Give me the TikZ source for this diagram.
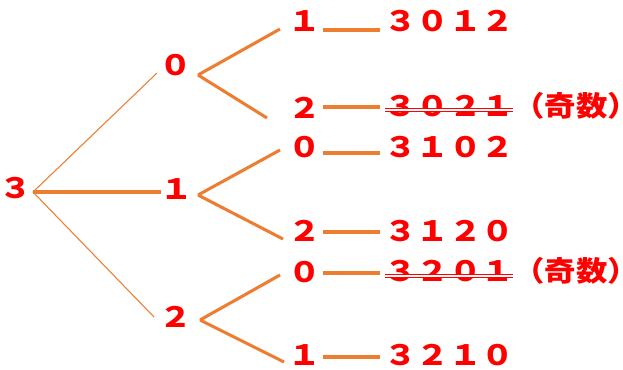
\documentclass[tikz,border=0pt]{standalone}
\usepackage{fontspec}
\newfontfamily\jp{Noto Sans CJK JP}[FakeStretch=1.16]
\newfontfamily\jpp{Noto Sans CJK JP}[FakeStretch=1.12]
\definecolor{orng}{HTML}{ED7D31}
\definecolor{rd}{HTML}{FF0000}
\tikzset{
  lbl/.style={text=rd, font=\jp\bfseries\fontsize{21}{24}\selectfont, inner sep=0pt},
  odd/.style={text=rd, font=\jpp\bfseries\fontsize{21}{24}\selectfont, inner sep=0pt, anchor=east},
  thinl/.style={draw=orng, line width=0.8pt},
  thickl/.style={draw=orng, line width=3pt},
  medl/.style={draw=orng, line width=2.3pt},
  hl/.style={draw=orng, line width=3pt},
  strike/.style={draw=rd, line width=0.9pt, double=white, double distance=1.6pt}
}
\begin{document}
\begin{tikzpicture}[x=0.75pt,y=-0.75pt]
\useasboundingbox (0,0) rectangle (623,369);
% nodes
\node[lbl] (r) at (16,188) {３};
\node[lbl] (a) at (176,65) {０};
\node[lbl] (b) at (177,189) {１};
\node[lbl] (c) at (176,317) {２};
\node[lbl] (a1) at (305,21) {１};
\node[lbl] (a2) at (305,108) {２};
\node[lbl] (b1) at (305,147) {０};
\node[lbl] (b2) at (305,231) {２};
\node[lbl] (c1) at (305,272) {０};
\node[lbl] (c2) at (305,355) {１};
\node[lbl] (ra1) at (449,21) {３０１２};
\node[lbl] (ra2) at (449,106) {３０２１};
\node[lbl] (rb1) at (449,147) {３１０２};
\node[lbl] (rb2) at (449,231) {３１２０};
\node[lbl] (rc1) at (449,271) {３２０１};
\node[lbl] (rc2) at (449,355) {３２１０};
\node[odd] (o1) at (623,106) {\kern-12pt（奇数）\kern-12pt};
\node[odd] (o2) at (623,271) {\kern-12pt（奇数）\kern-12pt};
% first level
\draw[thinl] ([shift={(17,4)}]r.center) -- ([shift={(-19,8)}]a.center);
\draw[thickl] ([shift={(17,4)}]r.center) -- ([shift={(-16,3)}]b.center);
\draw[thinl] ([shift={(17,4)}]r.center) -- ([shift={(-22,0)}]c.center);
% second level
\draw[medl] ([shift={(22,10)}]a.center) -- ([shift={(-25,8)}]a1.center);
\draw[medl] ([shift={(22,10)}]a.center) -- ([shift={(-38,10)}]a2.center);
\draw[medl] ([shift={(21,6)}]b.center) -- ([shift={(-25,3)}]b1.center);
\draw[medl] ([shift={(21,6)}]b.center) -- ([shift={(-22,8)}]b2.center);
\draw[medl] ([shift={(24,3)}]c.center) -- ([shift={(-25,3)}]c1.center);
\draw[medl] ([shift={(24,3)}]c.center) -- ([shift={(-21,7)}]c2.center);
% horizontal
\draw[hl] ([shift={(18,9)}]a1.center) -- ([shift={(-69,9)}]ra1.center);
\draw[hl] ([shift={(18,-1)}]a2.center) -- ([shift={(-69,1)}]ra2.center);
\draw[hl] ([shift={(18,6)}]b1.center) -- ([shift={(-69,6)}]rb1.center);
\draw[hl] ([shift={(18,1)}]b2.center) -- ([shift={(-69,1)}]rb2.center);
\draw[hl] ([shift={(18,1)}]c1.center) -- ([shift={(-69,2)}]rc1.center);
\draw[hl] ([shift={(18,2)}]c2.center) -- ([shift={(-69,2)}]rc2.center);
% strikes
\draw[strike] ([shift={(-64,4)}]ra2.center) -- ([shift={(64,4)}]ra2.center);
\draw[strike] ([shift={(-64,5)}]rc1.center) -- ([shift={(64,5)}]rc1.center);
\end{tikzpicture}
\end{document}
